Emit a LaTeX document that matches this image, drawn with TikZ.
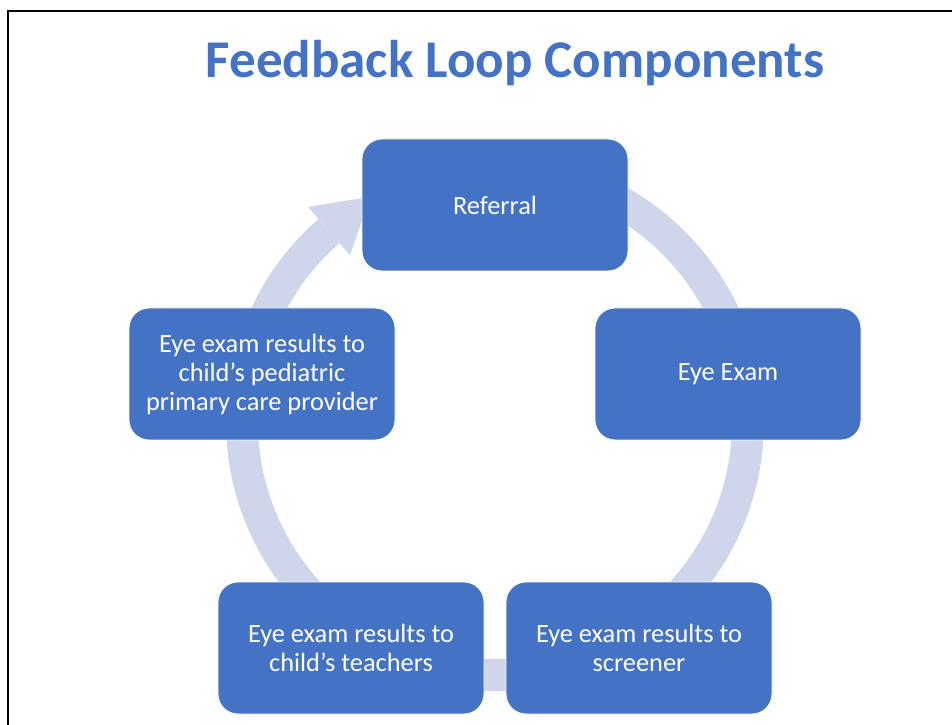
\documentclass[tikz,border=0pt]{standalone}
\usepackage{fontspec}
\setmainfont{Carlito}
\usetikzlibrary{calc}

\definecolor{officeblue}{HTML}{4472C4}
\definecolor{cyclearc}{HTML}{CFD5EA}

\begin{document}
\begin{tikzpicture}[
  stage/.style={draw=white, line width=0.5pt, fill=officeblue, text=white,
                rounded corners=0.4cm, minimum width=5.32cm, minimum height=2.64cm,
                align=center, inner sep=0pt,
                font=\fontsize{15}{16.5}\selectfont},
  band/.style={cyclearc, line width=0.64cm}
]
\useasboundingbox (0,0) rectangle (19.04,14.48);

%% ---- Slide frame -------------------------------------------------
\draw[line width=1.3pt] (0.16,-0.2) -- (0.16,14.26) -- (19.3,14.26);

%% ---- Title -------------------------------------------------------
\node[anchor=base, text=officeblue, inner sep=0pt,
      font=\fontsize{30.2}{36}\selectfont\bfseries]
     (title) at (10.30,12.92) {Feedback Loop Components};

%% ---- Cycle band (behind the stages) -------------------------------
\coordinate (c) at (9.90,6.04);
\draw[band] ($(c)+(80:5.06)$) arc[start angle=80, end angle=-229, radius=5.06cm];
% arrow head ending at the referral
\fill[cyclearc] ($(c)+(131:4.42)$) -- ($(c)+(131:5.70)$)
     -- ($(c)+(119:5.15)$) -- cycle;

%% ---- Stages ------------------------------------------------------
\node[stage] (referral) at (9.90,10.38) {Referral};
\node[stage] (eyeexam)  at (14.56,7.00) {Eye Exam};
\node[stage] (screener) at (12.78,1.52) {Eye exam results to\\screener};
\node[stage] (teachers) at (7.02,1.52)  {Eye exam results to\\child’s teachers};
\node[stage] (pcp)      at (5.24,7.00)
     {Eye exam results to\\child’s pediatric\\primary care provider};

\end{tikzpicture}
\end{document}
